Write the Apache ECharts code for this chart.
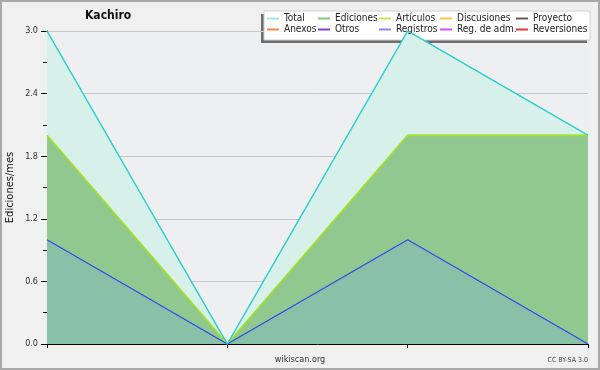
<!DOCTYPE html>
<html><head><meta charset="utf-8">
<script src="https://cdn.jsdelivr.net/npm/echarts@6/dist/echarts.min.js"></script>
<style>html,body{margin:0;padding:0;background:#f0f0f0}#c{width:600px;height:370px}</style>
</head><body><div id="c"></div>
<script>
// ---- data ----
const categories = ['1', '2', '3', '4'];
const total = [3, 0, 3, 2];
const ediciones = [2, 0, 2, 2];
const articulos = [2, 0, 2, 2];
const registros = [1, 0, 1, 0];
const discusiones = [];
const proyecto = [];
const anexos = [];
const otros = [];
const regAdm = [];
const reversiones = [];
const yMin = 0, yMax = 3, yStep = 0.6;
const legendCols = [['Total', 'Anexos'], ['Ediciones', 'Otros'], ['Artículos', 'Registros'], ['Discusiones', 'Reg. de adm.'], ['Proyecto', 'Reversiones']];
const legendColors = {
  'Total': '#a8e4e0', 'Ediciones': '#80c880', 'Artículos': '#c8e850', 'Discusiones': '#f8c840', 'Proyecto': '#606060',
  'Anexos': '#f08848', 'Otros': '#8040d0', 'Registros': '#8888f0', 'Reg. de adm.': '#d058e8', 'Reversiones': '#e83838'
};
// ---------------
const FONT = 'DejaVu Sans Condensed, DejaVu Sans, sans-serif';
const chart = echarts.init(document.getElementById('c'), null, {renderer: 'canvas'});
const colLeft = [267, 318, 379, 440, 516];
const legends = legendCols.map((col, i) => ({
  left: colLeft[i], top: 13, orient: 'vertical', padding: 0, itemGap: 0,
  itemWidth: 12, itemHeight: 2, icon: 'rect', selectedMode: false,
  textStyle: {fontFamily: FONT, fontSize: 10, color: '#222', lineHeight: 11},
  data: col.map(n => ({name: n, itemStyle: {color: legendColors[n]}}))
}));
function lineSeries(name, data, color, extra) {
  return Object.assign({
    name, type: 'line', data, symbol: 'none', animation: false,
    lineStyle: {color, width: 1.2}, itemStyle: {color}
  }, extra || {});
}
const option = {
  backgroundColor: '#f0f0f0',
  animation: false,
  title: {text: 'Kachiro', left: 85, top: 10, padding: 0,
    textStyle: {fontFamily: FONT, fontSize: 12, fontWeight: 'bold', color: '#111'}},
  legend: legends,
  grid: {left: 47, right: 12, top: 31, bottom: 26, show: true, backgroundColor: '#eeeff0', borderWidth: 0,
    containLabel: false, outerBoundsMode: 'none'},
  xAxis: {type: 'category', data: categories, boundaryGap: false,
    axisLine: {lineStyle: {color: '#000', width: 1}},
    axisTick: {show: true, length: 4, lineStyle: {color: '#000'}},
    axisLabel: {show: false}, splitLine: {show: false}},
  yAxis: {type: 'value', min: yMin, max: yMax, interval: yStep,
    name: 'Ediciones/mes', nameLocation: 'middle', nameGap: 31, nameMoveOverlap: false,
    nameTextStyle: {fontFamily: FONT, fontSize: 11, color: '#111'},
    axisLine: {show: true, lineStyle: {color: '#000', width: 1}},
    axisTick: {show: true, length: 6, lineStyle: {color: '#000'}},
    minorTick: {show: true, splitNumber: 2, length: 4, lineStyle: {color: '#000'}},
    axisLabel: {fontFamily: FONT, fontSize: 9, color: '#333', margin: 9, formatter: v => v.toFixed(1)},
    splitLine: {show: true, lineStyle: {color: '#c8c8c8', width: 1}}},
  series: [
    lineSeries('Total', total, '#30d0d0', {areaStyle: {color: '#d8f0ea', opacity: 1}, z: 2}),
    lineSeries('Ediciones', ediciones, '#90c890', {areaStyle: {color: '#90c890', opacity: 1}, z: 3}),
    lineSeries('Artículos', articulos, '#a4e41c', {z: 4, lineStyle: {color: '#a4e41c', width: 1.6}}),
    lineSeries('Discusiones', discusiones, '#f8c840'),
    lineSeries('Proyecto', proyecto, '#606060'),
    lineSeries('Anexos', anexos, '#f08848'),
    lineSeries('Otros', otros, '#8040d0'),
    lineSeries('Registros', registros, '#3048f0', {areaStyle: {color: 'rgba(112,168,240,0.25)', opacity: 1}, z: 5}),
    lineSeries('Reg. de adm.', regAdm, '#d058e8'),
    lineSeries('Reversiones', reversiones, '#e83838'),
    lineSeries('Total ', total, '#30d0d0', {z: 6, tooltip: {show: false}})
  ],
  graphic: [
    {type: 'rect', z: 0, zlevel: 0, shape: {x: 261, y: 14, width: 326, height: 29}, style: {fill: '#6e6e6e'}},
    {type: 'rect', z: 1, shape: {x: 264, y: 11, width: 326, height: 29}, style: {fill: '#ffffff', stroke: '#d0d0d0', lineWidth: 1}},
    {type: 'text', left: 'center', top: 355, style: {text: 'wikiscan.org', font: '9px ' + FONT, fill: '#333'}},
    {type: 'text', right: 12, top: 357, style: {text: 'CC BY-SA 3.0', font: '7px ' + FONT, fill: '#444'}},
    {type: 'rect', z: 100, shape: {x: 1, y: 1, width: 598, height: 368}, style: {fill: 'none', stroke: '#a8a8a8', lineWidth: 2}}
  ]
};
chart.setOption(option);
</script></body></html>
